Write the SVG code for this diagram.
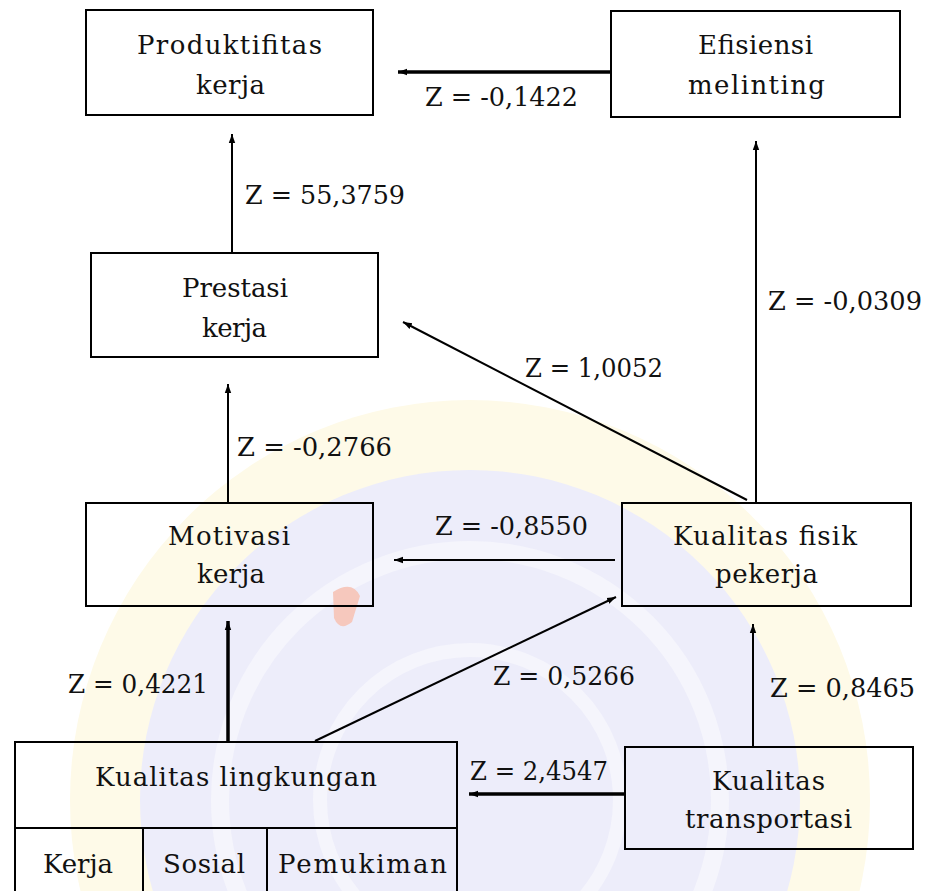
<svg xmlns="http://www.w3.org/2000/svg" width="927" height="891" viewBox="0 0 927 891">
  <defs>
    <marker id="tip" markerUnits="userSpaceOnUse" markerWidth="10" markerHeight="8" refX="9" refY="4" orient="auto">
      <path d="M0,0.8 L9,4 L0,7.2 Z" fill="#000"/>
    </marker>
    <style>
      .box { fill: none; stroke: #000; stroke-width: 2; }
      .t { font-family: "DejaVu Serif", "Liberation Serif", serif; font-size: 26px; fill: #111; }
      .edge { stroke: #000; stroke-width: 2; fill: none; marker-end: url(#tip); }
      .thick { stroke-width: 3.5; }
    </style>
  </defs>

  <rect width="927" height="891" fill="#fff"/>

  <!-- faint seal in the background -->
  <g id="watermark">
    <circle cx="470" cy="800" r="400" fill="#fefae8"/>
    <circle cx="470" cy="800" r="330" fill="#ededfa"/>
    <circle cx="470" cy="800" r="250" fill="none" stroke="#f5f5fc" stroke-width="18"/>
    <circle cx="470" cy="800" r="150" fill="none" stroke="#f5f5fc" stroke-width="14"/>
    <path d="M333,592 Q352,580 360,596 L352,622 Q340,632 334,618 Z" fill="#f6c8bd"/>
  </g>

  <g id="connectors">
    <line class="edge thick" x1="611" y1="72" x2="398" y2="72"/>
    <line class="edge" x1="232" y1="253" x2="232" y2="134"/>
    <line class="edge" x1="228" y1="503" x2="228" y2="384"/>
    <line class="edge" x1="756" y1="503" x2="756" y2="141"/>
    <line class="edge" x1="747" y1="500" x2="403" y2="322"/>
    <line class="edge" x1="615" y1="560" x2="394" y2="560"/>
    <line class="edge thick" x1="228" y1="742" x2="228" y2="621"/>
    <line class="edge" x1="315" y1="741" x2="616" y2="597"/>
    <line class="edge" x1="753" y1="747" x2="753" y2="624"/>
    <line class="edge thick" x1="624" y1="794" x2="469" y2="794"/>
  </g>

  <g id="edge-labels">
    <text class="t" x="425" y="106" textLength="153" lengthAdjust="spacingAndGlyphs">Z = -0,1422</text>
    <text class="t" x="245" y="204" textLength="160" lengthAdjust="spacingAndGlyphs">Z = 55,3759</text>
    <text class="t" x="237" y="456" textLength="155" lengthAdjust="spacingAndGlyphs">Z = -0,2766</text>
    <text class="t" x="768" y="310" textLength="154" lengthAdjust="spacingAndGlyphs">Z = -0,0309</text>
    <text class="t" x="525" y="377" textLength="138" lengthAdjust="spacingAndGlyphs">Z = 1,0052</text>
    <text class="t" x="435" y="535" textLength="153" lengthAdjust="spacingAndGlyphs">Z = -0,8550</text>
    <text class="t" x="68" y="693" textLength="140" lengthAdjust="spacingAndGlyphs">Z = 0,4221</text>
    <text class="t" x="493" y="685" textLength="142" lengthAdjust="spacingAndGlyphs">Z = 0,5266</text>
    <text class="t" x="770" y="697" textLength="145" lengthAdjust="spacingAndGlyphs">Z = 0,8465</text>
    <text class="t" x="470" y="780" textLength="138" lengthAdjust="spacingAndGlyphs">Z = 2,4547</text>
  </g>

  <g id="produktifitas-kerja">
    <rect class="box" x="86" y="10" width="287" height="105"/>
    <text class="t" x="137" y="54" textLength="185" lengthAdjust="spacing">Produktifitas</text>
    <text class="t" x="196" y="94" textLength="69" lengthAdjust="spacing">kerja</text>
  </g>

  <g id="efisiensi-melinting">
    <rect class="box" x="611" y="11" width="289" height="106"/>
    <text class="t" x="698" y="54" textLength="115" lengthAdjust="spacing">Efisiensi</text>
    <text class="t" x="688" y="94" textLength="137" lengthAdjust="spacing">melinting</text>
  </g>

  <g id="prestasi-kerja">
    <rect class="box" x="91" y="253" width="287" height="104"/>
    <text class="t" x="182" y="297" textLength="106" lengthAdjust="spacing">Prestasi</text>
    <text class="t" x="202" y="337" textLength="65" lengthAdjust="spacing">kerja</text>
  </g>

  <g id="motivasi-kerja">
    <rect class="box" x="86" y="503" width="287" height="103"/>
    <text class="t" x="168" y="545" textLength="122" lengthAdjust="spacing">Motivasi</text>
    <text class="t" x="197" y="583" textLength="68" lengthAdjust="spacing">kerja</text>
  </g>

  <g id="kualitas-fisik-pekerja">
    <rect class="box" x="622" y="503" width="289" height="103"/>
    <text class="t" x="673" y="545" textLength="184" lengthAdjust="spacing">Kualitas fisik</text>
    <text class="t" x="715" y="583" textLength="103" lengthAdjust="spacing">pekerja</text>
  </g>

  <g id="kualitas-lingkungan">
    <rect class="box" x="15" y="742" width="442" height="86"/>
    <rect class="box" x="15" y="828" width="442" height="80"/>
    <line class="box" x1="143" y1="828" x2="143" y2="908"/>
    <line class="box" x1="267" y1="828" x2="267" y2="908"/>
    <text class="t" x="95" y="786" textLength="282" lengthAdjust="spacing">Kualitas lingkungan</text>
    <text class="t" x="43" y="873" textLength="70" lengthAdjust="spacing">Kerja</text>
    <text class="t" x="163" y="873" textLength="82" lengthAdjust="spacing">Sosial</text>
    <text class="t" x="278" y="873" textLength="169" lengthAdjust="spacing">Pemukiman</text>
  </g>

  <g id="kualitas-transportasi">
    <rect class="box" x="625" y="747" width="288" height="102"/>
    <text class="t" x="712" y="790" textLength="113" lengthAdjust="spacing">Kualitas</text>
    <text class="t" x="685" y="828" textLength="167" lengthAdjust="spacing">transportasi</text>
  </g>
</svg>
